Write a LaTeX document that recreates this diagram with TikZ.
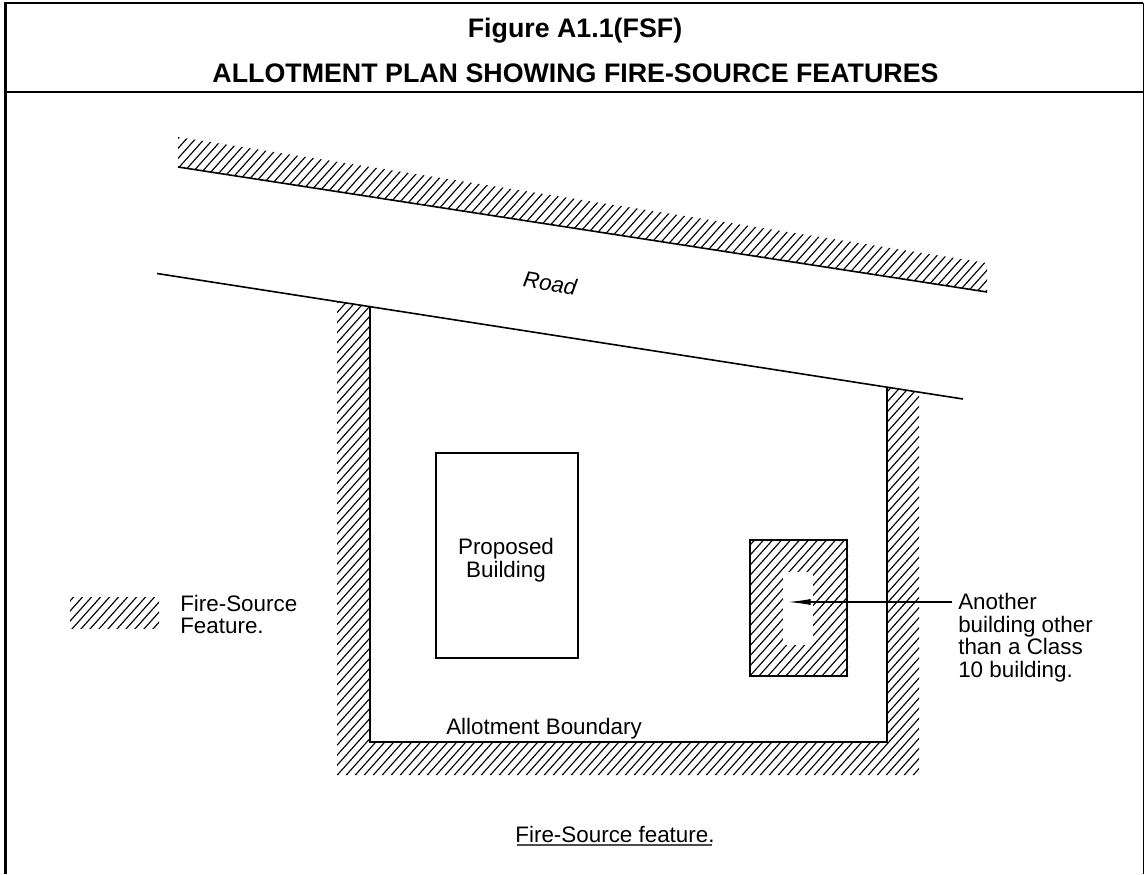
\documentclass[tikz,border=0pt]{standalone}
\usepackage{fontspec}
\setmainfont{Liberation Sans}
\usetikzlibrary{arrows.meta}
\tikzset{
  x=0.75pt,y=-0.75pt,
  frameline/.style={line width=2pt,black},
  thinframe/.style={line width=1.1pt,black},
  heavyline/.style={line width=1.5pt,black},
  roadline/.style={line width=1.2pt,black},
  hatchline/.style={line width=0.85pt,black},
  lbl/.style={inner sep=0pt,font=\fontsize{16.8}{16.9}\selectfont,align=left},
  title/.style={inner sep=0pt,anchor=base,font=\bfseries\fontsize{20.1}{24}\selectfont},
  box/.style={draw,heavyline,inner sep=0pt,outer sep=0pt,anchor=north west},
}
\newcommand{\hatchfill}{%
  \foreach \hx in {-800,-791,...,1000}{\draw[hatchline] (\hx,1000) -- ++(850,-950);}%
}
\begin{document}
\begin{tikzpicture}
\useasboundingbox (0,0) rectangle (1145,874);
\fill[white] (0,0) rectangle (1145,874);
% frame
\draw[frameline] (5.5,874) -- (5.5,3) -- (1143,3);
\draw[thinframe] (1143.5,3) -- (1143.5,874);
\draw[frameline] (5.5,92) -- (1143.5,92);
\node[title] (t1) at (575,38) {Figure A1.1(FSF)};
\node[title] (t2) at (575.5,83) {ALLOTMENT PLAN SHOWING FIRE-SOURCE FEATURES};
% road hatch
\begin{scope}
\clip (178,137) -- (987,263) -- (987,292) -- (178,167) -- cycle;
\hatchfill
\end{scope}
% wall hatch
\begin{scope}
\clip (337,301) -- (370,306) -- (370,742) -- (887,742) -- (887,387) -- (919,392) -- (919,775) -- (337,775) -- cycle;
\hatchfill
\end{scope}
% other building hatch
\begin{scope}
\clip (750,540) rectangle (848,676);
\hatchfill
\end{scope}
\fill[white] (783,572) rectangle (813,645);
% legend hatch
\begin{scope}
\clip (70,597) rectangle (159,628);
\hatchfill
\end{scope}
% road lines
\coordinate (ra) at (178,167); \coordinate (rb) at (987,292);
\coordinate (rc) at (157,273.5); \coordinate (rd) at (963,399);
\draw[roadline] (ra) -- (rb);
\draw[roadline] (rc) -- (rd);
% boundary
\coordinate (b1) at (370,306); \coordinate (b2) at (370,742);
\coordinate (b3) at (886.5,742); \coordinate (b4) at (886.5,387);
\draw[heavyline] (b1) -- (b2) -- (b3) -- (b4);
% buildings
\node[box,minimum width=106.5pt,minimum height=153.75pt] (pb) at (436,453) {};
\node[lbl,align=center] (pbl) at (506,560) {Proposed\\Building};
\node[box,minimum width=73pt,minimum height=102pt] (ob) at (750,540) {};
% labels
\node[lbl,anchor=north west] (al) at (958,593) {Another\\building other\\than a Class\\10 building.};
\coordinate (at) at (788,602);
\coordinate (as) at (952,602);
\draw[line width=0.9pt,-{Latex[length=17pt,width=4.5pt]}] (as) -- (at);
\node[lbl,anchor=north west] (fs) at (180,594.5) {Fire-Source\\Feature.};
\node[lbl,anchor=base west] (ab) at (446,734) {Allotment Boundary};
\node[lbl,rotate=-9,font=\itshape\fontsize{16.8}{16.9}\selectfont] (rl) at (550,283) {Road};
\node[lbl,anchor=base] (ff) at (615,842) {Fire-Source feature.};
\coordinate (ua) at (517,845); \coordinate (ub) at (712,845);
\draw[line width=0.9pt,black!70] (ua) -- (ub);
\end{tikzpicture}
\end{document}
